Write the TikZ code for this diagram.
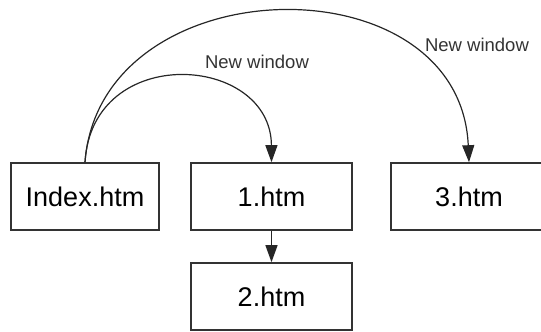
\documentclass[tikz,border=0pt]{standalone}
\usepackage{fontspec}
\setmainfont{Liberation Sans}
\usepackage{xcolor}
\usetikzlibrary{arrows.meta}
\usetikzlibrary{positioning}

\tikzset{
    page/.style={draw=black!80, line width=1.6pt, minimum width=148pt, minimum height=67pt, inner sep=0pt, font=\fontsize{27}{27}\selectfont},
    link/.style={draw=black!85, line width=1.2pt, -{Triangle[length=17pt,width=12pt]}},
    linklabel/.style={font=\fontsize{18.5}{18.5}\selectfont, text=black!80}
}

\begin{document}
\begin{tikzpicture}[x=1pt,y=-1pt]
        \useasboundingbox (0,0) rectangle (541,332);
    %Pages
        \node[page] (index) at (85,196.5) {Index.htm};
        \node[page, minimum width=161pt] (one) at (271.5,196.5) {1.htm};
        \node[page, minimum width=156pt] (three) at (469,196.5) {3.htm};
        \node[page, minimum width=161pt] (two) at (271.5,296.5) {2.htm};
    %Links
        \draw[link] (index.north) .. controls (92,42) and (271,54) .. (one.north);
        \draw[link] (index.north) .. controls (100,-35) and (460,-42) .. (three.north);
        \draw[link] (one.south) -- (two.north);
    %Labels
        \node[linklabel] (lbl1) at (257,62) {New window};
        \node[linklabel] (lbl3) at (477,45) {New window};
    \end{tikzpicture}
\end{document}
